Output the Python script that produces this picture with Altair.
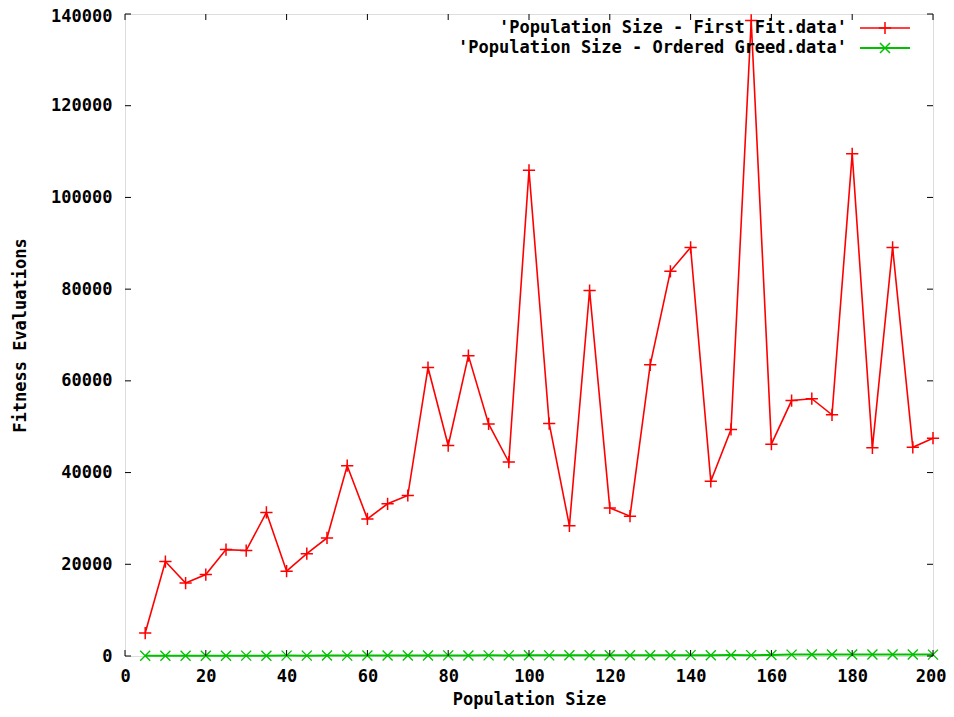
import altair as alt
import pandas as pd

# ---- data ----
pop_size = [5, 10, 15, 20, 25, 30, 35, 40, 45, 50,
            55, 60, 65, 70, 75, 80, 85, 90, 95, 100,
            105, 110, 115, 120, 125, 130, 135, 140, 145, 150,
            155, 160, 165, 170, 175, 180, 185, 190, 195, 200]
first_fit = [5000, 20600, 15900, 17750, 23200, 23000, 31300, 18500, 22300, 25750,
             41500, 29900, 33200, 35000, 62900, 45900, 65500, 50600, 42300, 105900,
             50700, 28400, 79700, 32300, 30500, 63500, 83900, 89100, 38100, 49400,
             138600, 46200, 55700, 56100, 52600, 109500, 45400, 89100, 45500, 47500]
ordered_greed = [40, 60, 50, 70, 60, 80, 70, 90, 80, 100,
                 90, 110, 100, 120, 110, 130, 120, 140, 130, 150,
                 140, 160, 150, 170, 160, 180, 170, 190, 180, 200,
                 190, 210, 300, 320, 310, 330, 320, 340, 330, 300]
series_names = ["'Population Size - First Fit.data'",
                "'Population Size - Ordered Greed.data'"]
series_colors = ["#ff0000", "#00c000"]
x_ticks = [0, 20, 40, 60, 80, 100, 120, 140, 160, 180, 200]
y_ticks = [0, 20000, 40000, 60000, 80000, 100000, 120000, 140000]

W, H = 808, 642
FONT = "DejaVu Sans Mono"
FS = 17
PLUS = "M-1,0L1,0M0,-1L0,1"
CROSS = "M-1,-1L1,1M-1,1L1,-1"

df_ff = pd.DataFrame({"x": pop_size, "y": first_fit})
df_og = pd.DataFrame({"x": pop_size, "y": ordered_greed})

xs = alt.Scale(domain=[0, 200], nice=False, zero=False)
ys = alt.Scale(domain=[0, 140000], nice=False)

last_x = "datum.value == %d" % x_ticks[-1]
last_y = "datum.value == %d" % y_ticks[-1]
x_enc = alt.X("x:Q", scale=xs, axis=alt.Axis(
    values=x_ticks, format="d", title="Population Size", grid=False, ticks=False, domain=False,
    labelPadding=12, labelFont=FONT, labelFontSize=FS, labelFontWeight="bold",
    labelColor="black", titleFont=FONT, titleFontSize=FS, titleFontWeight="bold",
    titleColor="black", titleY=43, titleBaseline="middle", labelFlush=False,
    labelAlign={"condition": {"test": last_x, "value": "right"}, "value": "center"},
    labelOffset={"condition": {"test": last_x, "value": 13}, "value": 0}))
y_enc = alt.Y("y:Q", scale=ys, axis=alt.Axis(
    values=y_ticks, format="d", title="Fitness Evaluations", grid=False, ticks=False, domain=False,
    labelPadding=13, labelFont=FONT, labelFontSize=FS, labelFontWeight="bold",
    labelColor="black", titleFont=FONT, titleFontSize=FS, titleFontWeight="bold",
    titleColor="black", titleX=-105, titleY=H / 2, titleBaseline="middle",
    titleAngle=-90, labelFlush=False,
    labelOffset={"condition": {"test": last_y, "value": 2}, "value": 0}))

layers = []
# Ordered greed (green)
layers.append(alt.Chart(df_og).mark_line(color=series_colors[1], strokeWidth=2)
              .encode(x=x_enc, y=y_enc))
layers.append(alt.Chart(df_og).mark_point(shape=CROSS, size=100, filled=False,
                                           color=series_colors[1], strokeWidth=1.3, opacity=1)
              .encode(x="x:Q", y="y:Q"))
# First fit (red)
layers.append(alt.Chart(df_ff).mark_line(color=series_colors[0], strokeWidth=1.6)
              .encode(x="x:Q", y="y:Q"))
layers.append(alt.Chart(df_ff).mark_point(shape=PLUS, size=150, filled=False,
                                           color=series_colors[0], strokeWidth=1.5, opacity=1)
              .encode(x="x:Q", y="y:Q"))

# inward ticks (gnuplot style, mirrored)
ty = pd.DataFrame({"y": y_ticks})
tx = pd.DataFrame({"x": x_ticks})
tick_col = "#000000"
layers.append(alt.Chart(ty).mark_rule(color=tick_col, strokeWidth=1)
              .encode(y="y:Q", x=alt.value(0), x2=alt.value(6)))
layers.append(alt.Chart(ty).mark_rule(color=tick_col, strokeWidth=1)
              .encode(y="y:Q", x=alt.value(W - 6), x2=alt.value(W)))
layers.append(alt.Chart(tx).mark_rule(color=tick_col, strokeWidth=1)
              .encode(x="x:Q", y=alt.value(H - 6), y2=alt.value(H)))
layers.append(alt.Chart(tx).mark_rule(color=tick_col, strokeWidth=1)
              .encode(x="x:Q", y=alt.value(0), y2=alt.value(6)))

# legend (gnuplot style: text then sample)
shapes = [PLUS, CROSS]
sizes = [150, 100]
for i, (name, col) in enumerate(zip(series_names, series_colors)):
    ld = pd.DataFrame({"label": [name]})
    ry = 14 + 20 * i
    layers.append(alt.Chart(ld).mark_text(align="right", baseline="middle", font=FONT,
                                           fontSize=FS, fontWeight="bold", color="black")
                  .encode(text="label:N", x=alt.value(722), y=alt.value(ry)))
    layers.append(alt.Chart(ld).mark_rule(color=col, strokeWidth=2 if i else 1.6)
                  .encode(x=alt.value(735), x2=alt.value(785), y=alt.value(ry)))
    layers.append(alt.Chart(ld).mark_point(shape=shapes[i], size=sizes[i], filled=False,
                                           color=col, strokeWidth=1.5, opacity=1)
                  .encode(x=alt.value(760), y=alt.value(ry)))

chart = alt.layer(*layers).properties(
    width=W, height=H,
    autosize=alt.AutoSizeParams(type="none"),
    padding={"left": 117, "top": 6, "right": 13, "bottom": 53},
).configure_view(stroke="#000000", strokeWidth=1.2).configure(background="white")

chart.save("out.html", embed_options={"renderer": "svg", "actions": False})
